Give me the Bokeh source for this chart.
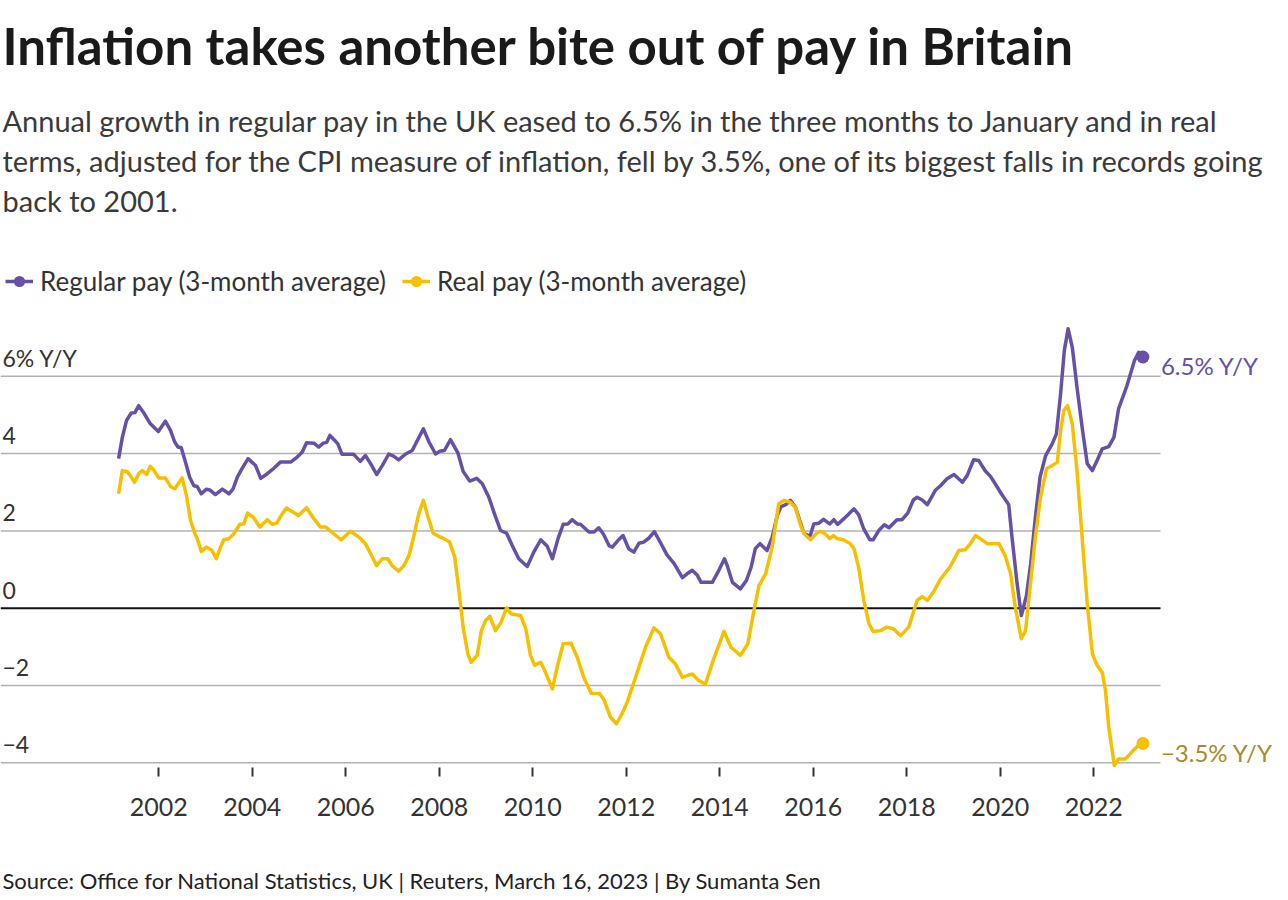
from bokeh.plotting import figure
from bokeh.models import Range1d, FixedTicker, Label, Legend, LegendItem, Title
from bokeh.embed import file_html
from bokeh.resources import INLINE
from bokeh.core.properties import value

# ---------------- data ----------------
reg_x = [2001.14, 2001.22, 2001.31, 2001.41, 2001.49, 2001.57, 2001.67, 2001.82, 2001.99, 2002.14,
         2002.25, 2002.34, 2002.41, 2002.48, 2002.57, 2002.66, 2002.75, 2002.82, 2002.91, 2003.02,
         2003.09, 2003.21, 2003.36, 2003.50, 2003.59, 2003.68, 2003.78, 2003.91, 2004.07, 2004.18,
         2004.32, 2004.46, 2004.60, 2004.82, 2004.96, 2005.07, 2005.16, 2005.32, 2005.42, 2005.52,
         2005.59, 2005.66, 2005.75, 2005.83, 2005.92, 2006.03, 2006.17, 2006.31, 2006.42, 2006.53,
         2006.66, 2006.78, 2006.92, 2007.03, 2007.13, 2007.28, 2007.42, 2007.53, 2007.66, 2007.78,
         2007.92, 2008.01, 2008.11, 2008.24, 2008.40, 2008.51, 2008.65, 2008.80, 2008.92, 2009.06,
         2009.18, 2009.31, 2009.44, 2009.56, 2009.70, 2009.88, 2010.02, 2010.17, 2010.31, 2010.42,
         2010.54, 2010.65, 2010.75, 2010.84, 2010.95, 2011.02, 2011.20, 2011.31, 2011.41, 2011.51,
         2011.63, 2011.70, 2011.82, 2011.93, 2012.05, 2012.16, 2012.27, 2012.37, 2012.48, 2012.60,
         2012.73, 2012.87, 2013.02, 2013.20, 2013.30, 2013.41, 2013.52, 2013.60, 2013.84, 2013.98,
         2014.10, 2014.17, 2014.27, 2014.44, 2014.57, 2014.67, 2014.76, 2014.86, 2015.01, 2015.12,
         2015.23, 2015.31, 2015.41, 2015.51, 2015.62, 2015.71, 2015.80, 2015.93, 2016.01, 2016.12,
         2016.22, 2016.35, 2016.44, 2016.52, 2016.65, 2016.87, 2016.97, 2017.08, 2017.21, 2017.28,
         2017.40, 2017.52, 2017.62, 2017.79, 2017.90, 2018.02, 2018.14, 2018.22, 2018.33, 2018.44,
         2018.61, 2018.72, 2018.86, 2019.01, 2019.19, 2019.29, 2019.43, 2019.54, 2019.68, 2019.79,
         2019.90, 2020.04, 2020.18, 2020.25, 2020.36, 2020.45, 2020.56, 2020.65, 2020.75, 2020.85,
         2020.97, 2021.11, 2021.20, 2021.29, 2021.37, 2021.45, 2021.54, 2021.64, 2021.75, 2021.86,
         2021.97, 2022.07, 2022.18, 2022.32, 2022.43, 2022.53, 2022.71, 2022.87, 2022.96, 2023.05]
reg_y = [3.87, 4.42, 4.86, 5.05, 5.06, 5.24, 5.07, 4.77, 4.57, 4.84,
         4.60, 4.30, 4.17, 4.15, 3.78, 3.39, 3.17, 3.15, 2.96, 3.08,
         3.06, 2.94, 3.08, 2.96, 3.09, 3.39, 3.61, 3.87, 3.69, 3.36,
         3.48, 3.62, 3.78, 3.78, 3.91, 4.04, 4.28, 4.27, 4.17, 4.27,
         4.29, 4.47, 4.36, 4.25, 3.98, 3.98, 3.98, 3.80, 3.95, 3.74,
         3.46, 3.69, 3.99, 3.93, 3.84, 3.99, 4.08, 4.34, 4.64, 4.30,
         3.99, 4.06, 4.08, 4.36, 4.01, 3.54, 3.29, 3.36, 3.22, 2.87,
         2.44, 2.01, 1.94, 1.62, 1.28, 1.08, 1.45, 1.77, 1.60, 1.28,
         1.80, 2.17, 2.18, 2.29, 2.18, 2.17, 1.97, 1.97, 2.08, 1.92,
         1.62, 1.58, 1.75, 1.88, 1.54, 1.45, 1.68, 1.71, 1.81, 1.98,
         1.70, 1.38, 1.16, 0.79, 0.89, 0.98, 0.85, 0.67, 0.67, 0.98,
         1.28, 1.06, 0.67, 0.50, 0.72, 1.06, 1.54, 1.67, 1.49, 1.84,
         2.40, 2.63, 2.68, 2.79, 2.61, 2.27, 1.94, 1.86, 2.18, 2.20,
         2.30, 2.18, 2.29, 2.17, 2.31, 2.57, 2.42, 2.05, 1.77, 1.77,
         2.01, 2.16, 2.08, 2.29, 2.29, 2.46, 2.80, 2.87, 2.80, 2.68,
         3.05, 3.17, 3.35, 3.46, 3.26, 3.43, 3.84, 3.82, 3.55, 3.41,
         3.20, 2.93, 2.68, 1.84, 0.63, -0.19, 0.33, 1.15, 2.35, 3.39,
         3.95, 4.25, 4.51, 5.55, 6.67, 7.23, 6.75, 5.72, 4.68, 3.74,
         3.56, 3.82, 4.12, 4.18, 4.42, 5.16, 5.76, 6.41, 6.62, 6.50]

real_x = [2001.14, 2001.22, 2001.32, 2001.39, 2001.48, 2001.57, 2001.65, 2001.74, 2001.82, 2001.89,
          2002.00, 2002.14, 2002.25, 2002.34, 2002.50, 2002.59, 2002.68, 2002.76, 2002.83, 2002.91,
          2003.02, 2003.14, 2003.23, 2003.32, 2003.39, 2003.50, 2003.60, 2003.73, 2003.82, 2003.90,
          2004.03, 2004.16, 2004.32, 2004.43, 2004.52, 2004.64, 2004.73, 2004.85, 2004.99, 2005.16,
          2005.32, 2005.46, 2005.57, 2005.75, 2005.90, 2006.10, 2006.28, 2006.42, 2006.53, 2006.66,
          2006.78, 2006.90, 2006.99, 2007.13, 2007.24, 2007.35, 2007.45, 2007.56, 2007.66, 2007.75,
          2007.87, 2007.99, 2008.10, 2008.22, 2008.33, 2008.42, 2008.51, 2008.61, 2008.68, 2008.81,
          2008.90, 2008.99, 2009.08, 2009.20, 2009.31, 2009.44, 2009.54, 2009.74, 2009.85, 2009.95,
          2010.04, 2010.17, 2010.27, 2010.42, 2010.52, 2010.65, 2010.82, 2010.95, 2011.09, 2011.25,
          2011.43, 2011.53, 2011.66, 2011.79, 2011.91, 2012.02, 2012.13, 2012.27, 2012.41, 2012.59,
          2012.73, 2012.91, 2013.05, 2013.20, 2013.41, 2013.55, 2013.69, 2013.87, 2014.09, 2014.24,
          2014.44, 2014.60, 2014.73, 2014.84, 2014.98, 2015.12, 2015.26, 2015.37, 2015.51, 2015.62,
          2015.73, 2015.81, 2015.94, 2016.05, 2016.15, 2016.26, 2016.35, 2016.43, 2016.51, 2016.64,
          2016.78, 2016.87, 2016.97, 2017.08, 2017.19, 2017.28, 2017.44, 2017.57, 2017.71, 2017.87,
          2018.04, 2018.22, 2018.33, 2018.44, 2018.58, 2018.72, 2018.93, 2019.11, 2019.25, 2019.36,
          2019.47, 2019.57, 2019.72, 2019.97, 2020.11, 2020.22, 2020.32, 2020.45, 2020.54, 2020.63,
          2020.75, 2020.86, 2020.99, 2021.11, 2021.22, 2021.29, 2021.36, 2021.44, 2021.54, 2021.64,
          2021.75, 2021.86, 2021.97, 2022.07, 2022.18, 2022.25, 2022.32, 2022.44, 2022.53, 2022.68,
          2022.86, 2022.96, 2023.05]
real_y = [2.96, 3.56, 3.54, 3.43, 3.26, 3.48, 3.56, 3.46, 3.67, 3.58,
          3.37, 3.37, 3.15, 3.09, 3.37, 2.92, 2.27, 1.97, 1.77, 1.47,
          1.58, 1.49, 1.28, 1.58, 1.77, 1.80, 1.92, 2.17, 2.18, 2.46,
          2.34, 2.10, 2.29, 2.17, 2.20, 2.44, 2.59, 2.50, 2.40, 2.60,
          2.31, 2.10, 2.10, 1.92, 1.77, 1.99, 1.84, 1.67, 1.41, 1.10,
          1.28, 1.28, 1.10, 0.96, 1.10, 1.36, 1.84, 2.44, 2.79, 2.40,
          1.94, 1.86, 1.80, 1.71, 1.32, 0.46, -0.49, -1.18, -1.40, -1.22,
          -0.58, -0.32, -0.21, -0.58, -0.39, 0.01, -0.15, -0.19, -0.53, -1.22,
          -1.48, -1.40, -1.66, -2.09, -1.53, -0.92, -0.91, -1.27, -1.79, -2.20,
          -2.21, -2.39, -2.82, -2.99, -2.73, -2.43, -2.03, -1.53, -1.01, -0.51,
          -0.66, -1.27, -1.44, -1.79, -1.70, -1.87, -1.97, -1.31, -0.60, -1.01,
          -1.22, -0.92, -0.06, 0.59, 0.89, 1.58, 2.70, 2.79, 2.74, 2.60,
          2.14, 1.92, 1.77, 1.92, 1.99, 1.92, 1.80, 1.88, 1.80, 1.77,
          1.68, 1.54, 1.06, 0.20, -0.40, -0.60, -0.58, -0.49, -0.53, -0.71,
          -0.49, 0.20, 0.30, 0.20, 0.44, 0.75, 1.08, 1.49, 1.51, 1.67,
          1.88, 1.80, 1.67, 1.67, 1.34, 0.89, 0.03, -0.79, -0.58, 0.46,
          1.84, 2.87, 3.61, 3.69, 3.78, 4.60, 5.12, 5.24, 4.77, 3.56,
          1.84, 0.11, -1.18, -1.48, -1.66, -2.13, -3.08, -4.07, -3.90, -3.90,
          -3.66, -3.55, -3.50]

series_names = ["Regular pay (3-month average)", "Real pay (3-month average)"]
end_labels = ["6.5% Y/Y", "\u22123.5% Y/Y"]
x_ticks = [2002, 2004, 2006, 2008, 2010, 2012, 2014, 2016, 2018, 2020, 2022]
x_tick_labels = [str(t) for t in x_ticks]
y_ticks = [6, 4, 2, 0, -2, -4]
y_tick_labels = ["6% Y/Y", "4", "2", "0", "\u22122", "\u22124"]

title_text = "Inflation takes another bite out of pay in Britain"
subtitle_lines = [
    "Annual growth in regular pay in the UK eased to 6.5% in the three months to January and in real",
    "terms, adjusted for the CPI measure of inflation, fell by 3.5%, one of its biggest falls in records going",
    "back to 2001.",
]
source_text = "Source: Office for National Statistics, UK | Reuters, March 16, 2023 | By Sumanta Sen"

# ---------------- styling ----------------
FONT = "Lato"
PURPLE = "#6651a6"
YELLOW = "#f5c000"
GOLD = "#a88b2a"
TXT = "#333333"

W, H = 1280, 898
FRAME_B = 767          # frame bottom (canvas px); frame fills the rest of the canvas
GRID_END = 1160        # gridlines stop here (canvas px)


def px_year(px):
    return 2002 + (px - 158.3) / 46.75


def py_val(py):
    return (607.7 - py) / 38.65


p = figure(width=W, height=H,
           x_range=Range1d(px_year(0), px_year(W)),
           y_range=Range1d(py_val(FRAME_B), py_val(0)),
           min_border_left=0, min_border_right=0, min_border_top=0,
           min_border_bottom=H - FRAME_B,
           output_backend="svg", toolbar_location=None, y_axis_location=None,
           outline_line_color=None, background_fill_color="white", border_fill_color="white")
p.xgrid.visible = False
p.ygrid.visible = False

# horizontal gridlines (stop short of the end labels) and the zero line
gx0 = p.x_range.start
gx1 = px_year(GRID_END)
grid_vals = [t for t in y_ticks if t != 0]
p.segment(x0=[gx0] * len(grid_vals), y0=grid_vals, x1=[gx1] * len(grid_vals), y1=grid_vals,
          line_color="#b3b3b3", line_width=1.5)
p.segment(x0=[gx0], y0=[0], x1=[gx1], y1=[0], line_color="#111111", line_width=2)

ax = p.xaxis[0]
ax.ticker = FixedTicker(ticks=x_ticks)
ax.major_label_overrides = {t: l for t, l in zip(x_ticks, x_tick_labels)}
ax.axis_line_color = None
ax.major_tick_in = 0
ax.major_tick_out = 9
ax.minor_tick_in = 0
ax.minor_tick_out = 0
ax.major_tick_line_color = "#333333"
ax.major_tick_line_width = 2
ax.major_label_text_font = FONT
ax.major_label_text_font_size = "25px"
ax.major_label_text_color = TXT
ax.major_label_standoff = 21

# spacing below the axis, then the source line
p.add_layout(Title(text=" ", text_font_size="1px", standoff=41), "below")
p.add_layout(Title(text=source_text, align="left", text_font=FONT, text_font_size="22px",
                   text_font_style="normal", text_color="#222222", standoff=4, offset=2,
                   vertical_align="bottom"), "below")

# y tick labels, drawn above each gridline at the left edge
p.text(x=[px_year(2)] * len(y_ticks), y=y_ticks, text=y_tick_labels,
       text_font=value(FONT), text_font_size="23px", text_color=TXT,
       text_align="left", text_baseline="middle", y_offset=-18)

r_reg = p.line(reg_x, reg_y, line_color=PURPLE, line_width=3.5, line_join="round")
r_real = p.line(real_x, real_y, line_color=YELLOW, line_width=3.5, line_join="round")
d_reg = p.scatter([reg_x[-1]], [reg_y[-1]], size=13, fill_color=PURPLE, line_color=None)
d_real = p.scatter([real_x[-1]], [real_y[-1]], size=13, fill_color=YELLOW, line_color=None)

for xv, yv, lab, col in [(reg_x[-1], reg_y[-1], end_labels[0], PURPLE),
                         (real_x[-1], real_y[-1], end_labels[1], GOLD)]:
    p.add_layout(Label(x=xv, y=yv, text=lab, x_offset=18, y_offset=-9,
                       text_font=FONT, text_font_size="24px", text_color=col,
                       text_align="left", text_baseline="middle"))

# legends
for vx, name, rends in [(5, series_names[0], [r_reg, d_reg]), (402, series_names[1], [r_real, d_real])]:
    lg = Legend(items=[LegendItem(label=name, renderers=rends)],
                location=(vx, FRAME_B - 297), orientation="horizontal",
                glyph_width=28, glyph_height=30, label_height=30, label_standoff=7,
                label_text_font=FONT, label_text_font_size="26px", label_text_color=TXT,
                padding=0, margin=0, border_line_color=None, background_fill_alpha=0)
    p.add_layout(lg, "center")

# title and subtitle
p.add_layout(Label(x=px_year(2), y=py_val(45), text=title_text, text_font=FONT,
                   text_font_size="51px", text_font_style="bold", text_color="#1a1a1a",
                   text_baseline="middle"))
for i, line in enumerate(subtitle_lines):
    p.add_layout(Label(x=px_year(2), y=py_val(120 + 40 * i), text=line, text_font=FONT,
                       text_font_size="29px", text_color="#3a3a3a", text_baseline="middle"))

open("out.html", "w").write(file_html(p, INLINE))
